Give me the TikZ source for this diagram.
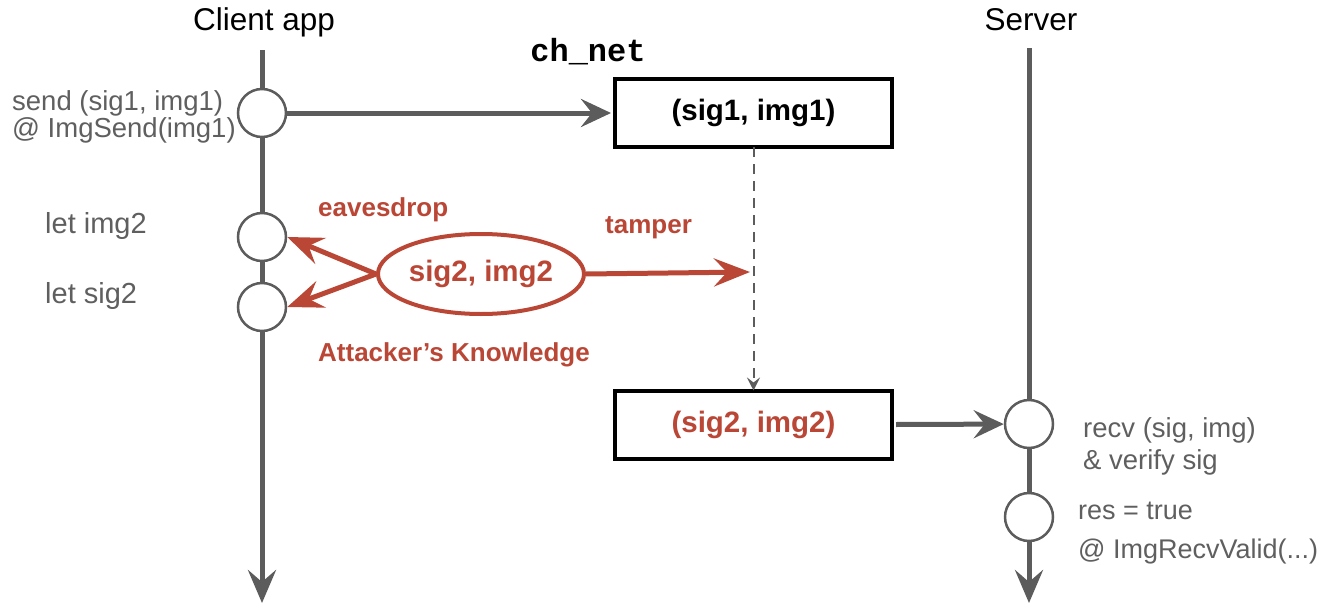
\documentclass[tikz,border=0pt]{standalone}
\usepackage{fontspec}
\setmainfont{Liberation Sans}
\setmonofont{Liberation Mono}
\usetikzlibrary{arrows.meta,shapes.geometric}
\definecolor{linegray}{RGB}{92,92,92}
\definecolor{labelgray}{RGB}{95,95,95}
\definecolor{attack}{RGB}{186,70,54}
\begin{document}
\begin{tikzpicture}[x=1pt,y=-1pt,
  lifeline/.style={draw=linegray, line width=5pt,
    -{Stealth[length=33pt,width=28pt,inset=12pt]}},
  event/.style={circle, draw=linegray, line width=2.5pt, fill=white,
    minimum size=48pt, inner sep=0pt},
  msg/.style={draw=linegray, line width=5pt,
    -{Stealth[length=30pt,width=28pt,inset=11pt]}},
  chanbox/.style={draw=black, line width=4pt, fill=white,
    minimum width=277pt, minimum height=68pt,
    font=\bfseries\fontsize{29.5}{34}\selectfont},
  actor/.style={font=\fontsize{31.5}{36}\selectfont, inner sep=0pt},
  note/.style={text=labelgray, anchor=west, align=left, inner sep=0pt},
  attk/.style={text=attack, anchor=west, inner sep=0pt,
    font=\bfseries\fontsize{26}{30}\selectfont},
  attkarrow/.style={draw=attack, line width=5pt,
    -{Stealth[length=36pt,width=28pt,inset=13pt]}},
  relay/.style={draw=linegray, line width=2pt, dash pattern=on 10pt off 7pt,
    -{Stealth[length=13pt,width=13pt,inset=5pt]}}
]
\useasboundingbox (0,0) rectangle (1318,605);

% participants
\node[actor] (client) at (264,22) {Client app};
\node[actor] (server) at (1031,20) {Server};

% lifelines
\coordinate (ctop) at (262,50);
\coordinate (cbot) at (262,603);
\coordinate (stop) at (1029,48);
\coordinate (sbot) at (1029,603);
\draw[lifeline] (ctop) -- (cbot);
\draw[lifeline] (stop) -- (sbot);

% events on the lifelines
\node[event] (send) at (262,113) {};
\node[event] (limg) at (262,237) {};
\node[event] (lsig) at (262,307) {};
\node[event] (recv) at (1029,424) {};
\node[event] (res) at (1029,517) {};

% channel
\node[font=\ttfamily\bfseries\fontsize{32}{36}\selectfont] (chnet) at (588,52) {ch\_net};
\node[chanbox] (m1) at (753.5,113) {(sig1, img1)};
\node[chanbox, text=attack] (m2) at (753.5,424.5) {(sig2, img2)};

\draw[msg] (send) -- ([xshift=-2pt]m1.west);
\draw[msg] ([xshift=2pt]m2.east) -- (recv);
\draw[relay] ([yshift=2pt]m1.south) -- ([yshift=-2pt]m2.north);

% attacker
\node[ellipse, draw=attack, line width=4pt, minimum width=206pt,
  minimum height=80pt, inner sep=0pt, text=attack,
  font=\bfseries\fontsize{29.5}{34}\selectfont] (know) at (481,274) {sig2, img2};
\coordinate (tamp) at (750,272);
\draw[attkarrow] (know.west) -- (limg.east);
\draw[attkarrow] (know.west) -- (lsig.east);
\draw[attkarrow] (know.east) -- (tamp);

\node[attk] (eaves) at (318,210) {eavesdrop};
\node[attk] (tamper) at (605,228) {tamper};
\node[attk] (knowlbl) at (318,355) {Attacker’s Knowledge};

% client labels
\node[note, font=\fontsize{27.5}{27}\selectfont] (sendlbl) at (12,117)
  {send (sig1, img1)\\@ ImgSend(img1)};
\node[note, font=\fontsize{29}{30}\selectfont] (limglbl) at (45,226) {let img2};
\node[note, font=\fontsize{29}{30}\selectfont] (lsiglbl) at (45,296) {let sig2};

% server labels
\node[note, font=\fontsize{27.5}{32}\selectfont] (recvlbl) at (1083,446)
  {recv (sig, img)\\\& verify sig};
\node[note, font=\fontsize{27}{39}\selectfont] (reslbl) at (1078,533)
  {res = true\\@ ImgRecvValid(...)};
\end{tikzpicture}
\end{document}
